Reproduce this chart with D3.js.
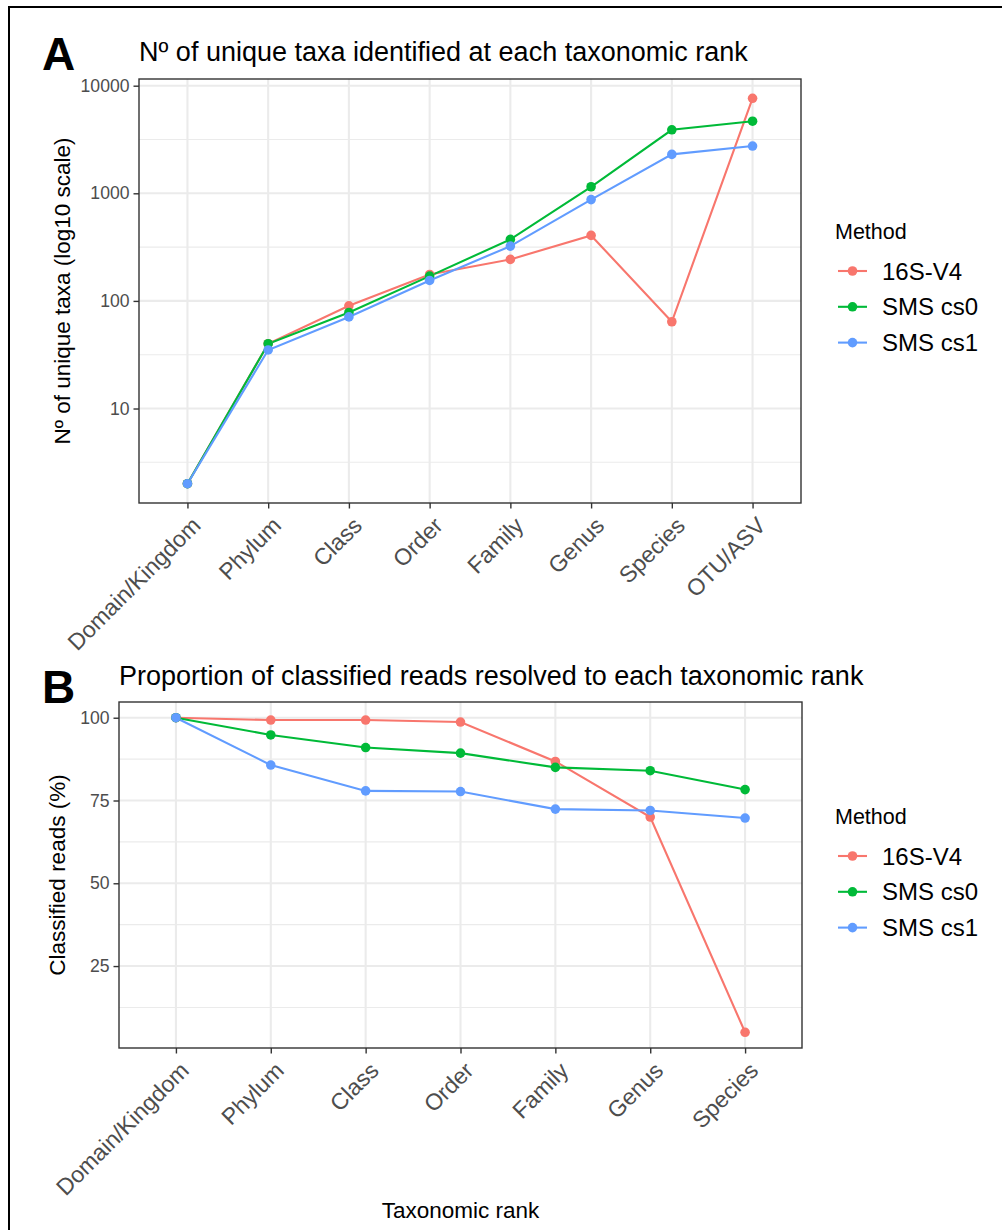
<!DOCTYPE html>
<html>
<head>
<meta charset="utf-8">
<script src="https://cdn.jsdelivr.net/npm/d3@7"></script>
<style>
  html, body { margin: 0; padding: 0; background: #fff; }
  svg { display: block; font-family: "Liberation Sans", Arial, Helvetica, sans-serif; }
</style>
</head>
<body>
<svg id="fig" width="1002" height="1230"></svg>
<script>
// Taxonomic ranks on the x axis of each panel
const ranksA = ["Domain/Kingdom", "Phylum", "Class", "Order", "Family", "Genus", "Species", "OTU/ASV"];
const ranksB = ["Domain/Kingdom", "Phylum", "Class", "Order", "Family", "Genus", "Species"];

// Sequencing methods and their colours
const methods = ["16S-V4", "SMS cs0", "SMS cs1"];
const methodColors = ["#F8766D", "#00BA38", "#619CFF"];

// Panel A: number of unique taxa per rank
const taxa16S = [2, 40, 90, 176, 243, 406, 64, 7640];
const taxaCs0 = [2, 40, 78, 170, 373, 1150, 3890, 4680];
const taxaCs1 = [2, 35, 71, 155, 323, 874, 2300, 2750];

// Panel B: classified reads (%) resolved to each rank
const reads16S = [100, 99.3, 99.3, 98.7, 86.8, 70.0, 5.0];
const readsCs0 = [100, 94.8, 91.0, 89.3, 85.0, 84.0, 78.3];
const readsCs1 = [100, 85.7, 77.9, 77.7, 72.4, 72.0, 69.7];

// Tick values
const ticksA = [10, 100, 1000, 10000];
const ticksB = [25, 50, 75, 100];

const svg = d3.select("#fig");
const FONT_TICK = 17.6, FONT_XTICK = 23, FONT_AXIS = 22.5, FONT_TITLE = 27;

// outer frame of the figure
svg.append("rect")
  .attr("x", 9).attr("y", 7).attr("width", 1100).attr("height", 1300)
  .attr("fill", "none").attr("stroke", "#000").attr("stroke-width", 2);

function drawPanel(cfg) {
  const g = svg.append("g");
  const { left, right, top, bottom } = cfg.box;

  const x = d3.scalePoint().domain(cfg.ranks).range([left, right]).padding(0.6);
  const y = cfg.y;

  // gridlines
  const grid = g.append("g");
  grid.selectAll(".minor").data(cfg.minor).join("line")
    .attr("x1", left).attr("x2", right)
    .attr("y1", d => y(d)).attr("y2", d => y(d))
    .attr("stroke", "#EBEBEB").attr("stroke-width", 1.1);
  grid.selectAll(".majY").data(cfg.ticks).join("line")
    .attr("x1", left).attr("x2", right)
    .attr("y1", d => y(d)).attr("y2", d => y(d))
    .attr("stroke", "#EBEBEB").attr("stroke-width", 2.1);
  grid.selectAll(".majX").data(cfg.ranks).join("line")
    .attr("x1", d => x(d)).attr("x2", d => x(d))
    .attr("y1", top).attr("y2", bottom)
    .attr("stroke", "#EBEBEB").attr("stroke-width", 2.1);

  // series lines, then points on top
  const series = methods.map((m, i) => ({
    name: m, color: methodColors[i],
    values: cfg.ranks.map((r, j) => ({ r, v: cfg.series[i][j] }))
  }));
  const line = d3.line().x(d => x(d.r)).y(d => y(d.v));
  g.selectAll(".series").data(series).join("path")
    .attr("d", d => line(d.values))
    .attr("fill", "none").attr("stroke", d => d.color)
    .attr("stroke-width", 2.1);
  series.forEach(s => {
    g.append("g").selectAll("circle").data(s.values).join("circle")
      .attr("cx", d => x(d.r)).attr("cy", d => y(d.v)).attr("r", 4.8)
      .attr("fill", s.color);
  });

  // panel border
  g.append("rect")
    .attr("x", left).attr("y", top).attr("width", right - left).attr("height", bottom - top)
    .attr("fill", "none").attr("stroke", "#333333").attr("stroke-width", 1.4);

  // y axis
  const yAxis = d3.axisLeft(y).tickValues(cfg.ticks).tickSize(5.5).tickPadding(4)
    .tickFormat(d3.format("d"));
  const ya = g.append("g").attr("transform", `translate(${left},0)`).call(yAxis);
  ya.select(".domain").remove();
  ya.selectAll(".tick line").attr("stroke", "#333333").attr("stroke-width", 1.4);
  ya.selectAll(".tick text").attr("fill", "#4D4D4D")
    .style("font-size", FONT_TICK + "px").style("font-family", "Liberation Sans, Arial, sans-serif");

  // x axis with rotated labels
  const xAxis = d3.axisBottom(x).tickSize(5.5).tickFormat(d => d);
  const xa = g.append("g").attr("transform", `translate(0,${bottom})`).call(xAxis);
  xa.select(".domain").remove();
  xa.selectAll(".tick line").attr("stroke", "#333333").attr("stroke-width", 1.4);
  xa.selectAll(".tick text")
    .attr("fill", "#4D4D4D")
    .style("font-size", FONT_XTICK + "px").style("font-family", "Liberation Sans, Arial, sans-serif")
    .attr("text-anchor", "end")
    .attr("dy", null)
    .attr("y", 0)
    .attr("transform", "translate(14,24) rotate(-45)");

  // y axis title
  g.append("text")
    .attr("transform", `translate(${cfg.yTitleX},${(top + bottom) / 2}) rotate(-90)`)
    .attr("text-anchor", "middle").attr("fill", "#000")
    .style("font-size", FONT_AXIS + "px")
    .text(cfg.yTitle);

  // panel title and tag
  g.append("text").attr("x", left).attr("y", cfg.titleY)
    .attr("fill", "#000").style("font-size", FONT_TITLE + "px").text(cfg.title);
  g.append("text").attr("x", 42).attr("y", cfg.tagY)
    .attr("fill", "#000").style("font-size", "46px").style("font-weight", "bold")
    .text(cfg.tag);

  // legend
  const lg = g.append("g");
  lg.append("text").attr("x", 835).attr("y", cfg.legendY)
    .style("font-size", "21.5px").attr("fill", "#000").text("Method");
  series.forEach((s, i) => {
    const cy = cfg.legendY + 32 + i * 35.8;
    lg.append("line").attr("x1", 838).attr("x2", 867).attr("y1", cy).attr("y2", cy)
      .attr("stroke", s.color).attr("stroke-width", 2.1);
    lg.append("circle").attr("cx", 852.5).attr("cy", cy).attr("r", 4.8).attr("fill", s.color);
    lg.append("text").attr("x", 882).attr("y", cy + 8.6)
      .style("font-size", "24px").attr("fill", "#000").text(s.name);
  });

  return { x, y };
}

// Panel A: log10 scale with ggplot-style 5% expansion
const allA = [...taxa16S, ...taxaCs0, ...taxaCs1];
const loA = Math.log10(d3.min(allA)), hiA = Math.log10(d3.max(allA));
const expA = (hiA - loA) * 0.05;
const boxA = { left: 139, right: 801, top: 79, bottom: 503 };
const yA = d3.scaleLog()
  .domain([Math.pow(10, loA - expA), Math.pow(10, hiA + expA)])
  .range([boxA.bottom, boxA.top]);
const minorA = [0.5, 1.5, 2.5, 3.5].map(e => Math.pow(10, e));

drawPanel({
  box: boxA, ranks: ranksA, y: yA, ticks: ticksA, minor: minorA,
  series: [taxa16S, taxaCs0, taxaCs1],
  yTitle: "Nº of unique taxa (log10 scale)", yTitleX: 70,
  title: "Nº of unique taxa identified at each taxonomic rank", titleY: 61,
  tag: "A", tagY: 70, legendY: 239
});

// Panel B: linear percentage scale with 5% expansion
const allB = [...reads16S, ...readsCs0, ...readsCs1];
const loB = d3.min(allB), hiB = d3.max(allB);
const expB = (hiB - loB) * 0.05;
const boxB = { left: 119, right: 802, top: 702, bottom: 1048 };
const yB = d3.scaleLinear().domain([loB - expB, hiB + expB]).range([boxB.bottom, boxB.top]);
const minorB = [12.5, 37.5, 62.5, 87.5];

drawPanel({
  box: boxB, ranks: ranksB, y: yB, ticks: ticksB, minor: minorB,
  series: [reads16S, readsCs0, readsCs1],
  yTitle: "Classified reads (%)", yTitleX: 65,
  title: "Proportion of classified reads resolved to each taxonomic rank", titleY: 685,
  tag: "B", tagY: 703, legendY: 824
});

// shared x axis title
svg.append("text").attr("x", (boxB.left + boxB.right) / 2).attr("y", 1218)
  .attr("text-anchor", "middle").style("font-size", FONT_AXIS + "px").attr("fill", "#000")
  .text("Taxonomic rank");
</script>
</body>
</html>
